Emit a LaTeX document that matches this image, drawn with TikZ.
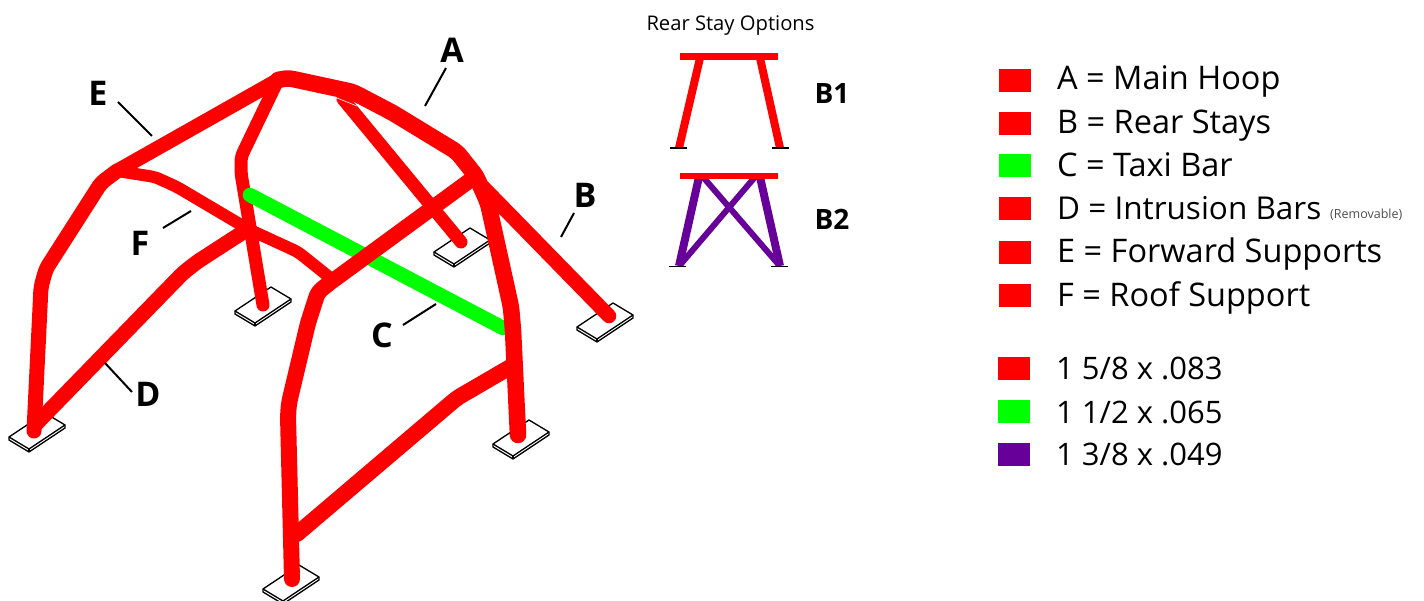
\documentclass[tikz,border=0pt]{standalone}
\usepackage{fontspec}
\setmainfont{Open Sans}
\usepackage{xcolor}
\definecolor{tubered}{HTML}{FF0000}
\definecolor{tubegreen}{HTML}{00FF00}
\definecolor{tubepurple}{HTML}{660099}
\tikzset{
  tube/.style={tubered, line width=#1, line cap=round, line join=round, rounded corners=5pt},
  tube/.default=13pt,
  leader/.style={black, line width=2pt},
  tag/.style={font=\fontsize{34}{36}\selectfont\bfseries, inner sep=0},
  subtag/.style={font=\fontsize{28}{32}\selectfont\bfseries, inner sep=0},
  legendtext/.style={font=\fontsize{32.5}{36}\selectfont, anchor=base west, inner sep=0},
  sizetext/.style={font=\fontsize{31}{36}\selectfont, anchor=base west, inner sep=0},
  swatch/.style={minimum width=32pt, minimum height=23pt, inner sep=0, anchor=north west},
  foot/.style={black, line width=1.5pt},
  plate/.pic={
    \draw[black, line width=1.3pt, fill=white, line join=round] (-28,6) -- (-28,9) -- (-8,21) -- (28,-3) -- (28,-6) -- (8,-18) -- cycle;
    \draw[black, line width=1.3pt, line join=round] (-28,6) -- (-8,18) -- (28,-6);
    \draw[black, line width=1.3pt] (-8,18) -- (-8,21);
  }
}

\begin{document}
\begin{tikzpicture}[x=1pt, y=-1pt]
\useasboundingbox (0,0) rectangle (1424,601);

\pic at (37,431) {plate};
\pic at (263,305) {plate};
\pic at (462,246) {plate};
\pic at (605,321) {plate};
\pic at (521,438) {plate};
\pic at (291,583) {plate};

% roll cage
\coordinate (apex) at (288,78);
\coordinate (top1) at (278,80);
\coordinate (elbow) at (117,171);
\coordinate (corner) at (476,176);
\coordinate (front) at (328,276);
\coordinate (cross) at (248,229);

\draw[tube=12pt] (elbow) -- (155,177) -- (177,187) -- (cross) -- (298,252) -- (front);
\draw[tube=13pt] (top1) -- (241,157) -- (241,173) -- (263,305);
\draw[tube=14.5pt] (top1) -- (elbow);
\draw[tube=15pt] (elbow) -- (101,183) -- (46,269) -- (41,287) -- (34,431);
\draw[tube=15pt] (36,424) -- (183,273) -- (197,262) -- (cross);

\draw[tubegreen, line width=14.5pt, line cap=round] (250,195) -- (503,328);
\draw[tube=15.5pt] (327,285) -- (corner);

\draw[tube=13pt] (343,99) -- (461,242);
\draw[white, line width=.6pt] (332,96) -- (357,106);
\draw[tube=14.5pt] (483,187) -- (609,316);
\draw[tube=16.5pt] (top1) -- (apex) -- (353,92) -- (393,113) -- (457,152) -- (corner) -- (488,203) -- (511,307) -- (513,330) -- (518,435);
\draw[tube=16pt] (327,285) -- (318,292) -- (308,323) -- (289,403) -- (288,416) -- (292,579);
\draw[tube=16pt] (297,534) -- (457,398) -- (512,366);

% labels
\node[tag] (labA) at (452,50) {A};
\node[tag] (labB) at (585,195) {B};
\node[tag] (labC) at (382,335) {C};
\node[tag] (labD) at (148,394) {D};
\node[tag] (labE) at (98,93) {E};
\node[tag] (labF) at (140,243) {F};

\coordinate (a1) at (446,68);
\coordinate (a2) at (425,106);
\coordinate (b1) at (574,213);
\coordinate (b2) at (561,237);
\coordinate (c1) at (403,325);
\coordinate (c2) at (436,304);
\coordinate (d1) at (105,363);
\coordinate (d2) at (132,392);
\coordinate (e1) at (118,102);
\coordinate (e2) at (152,136);
\coordinate (f1) at (163,228);
\coordinate (f2) at (191,211);
\draw[leader] (a1) -- (a2);
\draw[leader] (b1) -- (b2);
\draw[leader] (c1) -- (c2);
\draw[leader] (d1) -- (d2);
\draw[leader] (e1) -- (e2);
\draw[leader] (f1) -- (f2);

% rear stay options
\node[font=\fontsize{20.2}{24}\selectfont, inner sep=0] (opts) at (730.5,26) {Rear Stay Options};

\draw[tubered, line width=8pt] (700,58) -- (679,148);
\draw[tubered, line width=8pt] (760,58) -- (780,148);
\draw[tubered, line width=6.5pt] (680,56.5) -- (778,56.5);
\draw[foot] (670,148) -- (687,148);
\draw[foot] (772,148) -- (789,148);
\node[subtag] (b1lab) at (832,94) {B1};

\draw[tubepurple, line width=6pt] (703,177) -- (779,265);
\draw[tubepurple, line width=6pt] (755,177) -- (680,265);
\draw[tubepurple, line width=8pt] (699,177) -- (679,266);
\draw[tubepurple, line width=8pt] (760,177) -- (780,266);
\draw[tubered, line width=6.5pt] (680,176) -- (778,176);
\draw[foot] (669,266.5) -- (686,266.5);
\draw[foot] (771,266.5) -- (788,266.5);
\node[subtag] (b2lab) at (832,219) {B2};

% legend
\node[swatch, fill=tubered] (s1) at (999,69) {};
\node[swatch, fill=tubered] (s2) at (999,112) {};
\node[swatch, fill=tubegreen] (s3) at (999,154) {};
\node[swatch, fill=tubered] (s4) at (999,197) {};
\node[swatch, fill=tubered] (s5) at (999,241) {};
\node[swatch, fill=tubered] (s6) at (999,284) {};
\node[legendtext] (t1) at (1057,90) {A = Main Hoop};
\node[legendtext] (t2) at (1057,134) {B = Rear Stays};
\node[legendtext] (t3) at (1057,177) {C = Taxi Bar};
\node[sizetext, font=\fontsize{31.5}{36}\selectfont] (t4) at (1057,220) {D = Intrusion Bars};
\node[font=\fontsize{12.5}{15}\selectfont, anchor=base west, inner sep=0, text=black!70] (t4b) at (1330,219) {(Removable)};
\node[legendtext] (t5) at (1057,263) {E = Forward Supports};
\node[legendtext] (t6) at (1057,307) {F = Roof Support};

\node[swatch, fill=tubered] (w1) at (998,357) {};
\node[swatch, fill=tubegreen] (w2) at (998,400) {};
\node[swatch, fill=tubepurple] (w3) at (998,443) {};
\node[sizetext] (u1) at (1056,380) {1 5/8 x .083};
\node[sizetext] (u2) at (1056,423) {1 1/2 x .065};
\node[sizetext] (u3) at (1056,465) {1 3/8 x .049};
\end{tikzpicture}
\end{document}
